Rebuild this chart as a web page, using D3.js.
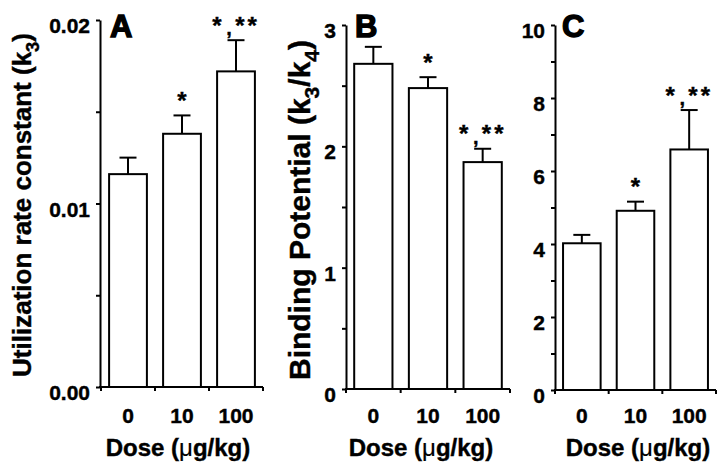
<!DOCTYPE html>
<html><head><meta charset="utf-8">
<script src="https://cdn.jsdelivr.net/npm/d3@7"></script>
<style>
html,body{margin:0;padding:0;background:#fff;}
svg text{font-family:"Liberation Sans",Arial,Helvetica,sans-serif;font-weight:bold;fill:#000;stroke:#000;stroke-width:0.4px;}
</style></head>
<body><svg id="c" width="720" height="469"></svg>
<script>
// ---- data ----
const doses = ["0", "10", "100"];
const utilMean = [0.0116, 0.0138, 0.0172];
const utilSem  = [0.0009, 0.0010, 0.0017];
const bpMean = [2.68, 2.48, 1.87];
const bpSem  = [0.14, 0.09, 0.11];
const cMean = [4.02, 4.91, 6.59];
const cSem  = [0.23, 0.25, 1.08];
const signif = ["", "*", "*,**"];
const utilTicks = [0, 0.01, 0.02];
const utilTickLabels = ["0.00", "0.01", "0.02"];
const utilMinor = [0.005, 0.015];
const bpTicks = [0, 1, 2, 3];
const bpTickLabels = ["0", "1", "2", "3"];
const bpMinor = [0.5, 1.5, 2.5];
const cTicks = [0, 2, 4, 6, 8, 10];
const cTickLabels = ["0", "2", "4", "6", "8", "10"];
const cMinor = [1, 3, 5, 7, 9];
const panelLetters = ["A", "B", "C"];

// ---- layout ----
const panels = [
  {letter: panelLetters[0], mean: utilMean, sem: utilSem, ticks: utilTicks, labels: utilTickLabels, minor: utilMinor,
   domain: [0, 0.02], ax: 100, y0: 387, y1: 20, xr: [101, 263], titleX: 110, xtc: 178,
   ytitle: {x: 31, y: 205, size: 26, parts: [["Utilization rate constant (k", 0], ["3", 1], [")", 0]]}},
  {letter: panelLetters[1], mean: bpMean, sem: bpSem, ticks: bpTicks, labels: bpTickLabels, minor: bpMinor,
   domain: [0, 3], ax: 346, y0: 389, y1: 25, xr: [346, 510], titleX: 355, xtc: 421,
   ytitle: {x: 310, y: 210, size: 30, parts: [["Binding Potential (k", 0], ["3", 1], ["/k", 0], ["4", 1], [")", 0]]}},
  {letter: panelLetters[2], mean: cMean, sem: cSem, ticks: cTicks, labels: cTickLabels, minor: cMinor,
   domain: [0, 10], ax: 555, y0: 390, y1: 25, xr: [555, 716], titleX: 562, xtc: 638, ytitle: null}
];

const svg = d3.select("#c");
const starSize = 24;

panels.forEach(p => {
  const g = svg.append("g");
  const y = d3.scaleLinear().domain(p.domain).range([p.y0, p.y1]);
  const x = d3.scaleBand().domain(doses).range(p.xr).paddingInner(0.3).paddingOuter(0.15);

  // bars
  g.selectAll("rect.bar").data(p.mean).enter().append("rect")
    .attr("x", (d, i) => x(doses[i]))
    .attr("y", d => y(d))
    .attr("width", x.bandwidth())
    .attr("height", d => p.y0 - y(d))
    .attr("fill", "#fff").attr("stroke", "#000").attr("stroke-width", 2);

  // error bars and significance marks
  p.mean.forEach((m, i) => {
    const cx = x(doses[i]) + x.bandwidth() / 2;
    const top = y(m + p.sem[i]);
    g.append("line").attr("x1", cx).attr("x2", cx).attr("y1", y(m)).attr("y2", top)
      .attr("stroke", "#000").attr("stroke-width", 2);
    g.append("line").attr("x1", cx - 8.5).attr("x2", cx + 8.5).attr("y1", top).attr("y2", top)
      .attr("stroke", "#000").attr("stroke-width", 2);
    const s = signif[i];
    const starBase = top - 20 + starSize * 0.57;
    if (s === "*") {
      g.append("text").attr("x", cx).attr("y", starBase).attr("text-anchor", "middle")
        .attr("font-size", starSize).text("*");
    } else if (s === "*,**") {
      const parts = s.split(",");
      g.append("text").attr("x", cx - 19).attr("y", starBase).attr("text-anchor", "middle")
        .attr("font-size", starSize).text(parts[0]);
      g.append("text").attr("x", cx - 7).attr("y", top - 5).attr("text-anchor", "middle")
        .attr("font-size", 20).text(",");
      g.append("text").attr("x", cx + 10).attr("y", starBase).attr("text-anchor", "middle")
        .attr("font-size", starSize).attr("letter-spacing", 3).attr("dx", 1.5).text(parts[1]);
    }
  });

  // y axis
  const yAxis = d3.axisLeft(y).tickValues(p.ticks).tickFormat((d, i) => p.labels[i])
    .tickSize(4).tickPadding(6).tickSizeOuter(0);
  const ya = g.append("g").attr("transform", `translate(${p.ax},0)`).call(yAxis);
  ya.attr("font-family", null).attr("font-size", null);
  ya.select(".domain").attr("stroke-width", 2);
  ya.selectAll(".tick line").attr("stroke-width", 2);
  ya.selectAll(".tick text").attr("font-size", 21).attr("dy", "0.6em").attr("fill", "#000");
  const yMinor = d3.axisLeft(y).tickValues(p.minor).tickFormat("").tickSize(4).tickSizeOuter(0);
  const ym = g.append("g").attr("transform", `translate(${p.ax},0)`).call(yMinor);
  ym.select(".domain").remove();
  ym.selectAll(".tick line").attr("stroke-width", 2);

  // x axis line and boundary ticks
  g.append("line").attr("x1", p.ax - 1).attr("x2", p.xr[1]).attr("y1", p.y0).attr("y2", p.y0)
    .attr("stroke", "#000").attr("stroke-width", 2);
  const bounds = d3.range(doses.length + 1).map(i => p.xr[0] + i * x.step());
  g.selectAll("line.bt").data(bounds).enter().append("line")
    .attr("x1", d => d).attr("x2", d => d).attr("y1", p.y0).attr("y2", p.y0 + 4)
    .attr("stroke", "#000").attr("stroke-width", 2);
  g.selectAll("text.xl").data(doses).enter().append("text")
    .attr("x", d => x(d) + x.bandwidth() / 2).attr("y", 423)
    .attr("text-anchor", "middle").attr("font-size", 21).text(d => d);

  // x title
  const xt = g.append("text").attr("x", p.xtc).attr("y", 456).attr("text-anchor", "middle").attr("font-size", 24);
  xt.append("tspan").text("Dose (");
  xt.append("tspan").style("font-weight", "normal").style("stroke-width", "0.2px").text("μ");
  xt.append("tspan").text("g/kg)");

  // panel letter
  g.append("text").attr("x", p.titleX).attr("y", 37).attr("font-size", 31)
    .style("stroke-width", "1.4px").text(p.letter);

  // y title
  if (p.ytitle) {
    const t = g.append("text").attr("transform", `translate(${p.ytitle.x},${p.ytitle.y}) rotate(-90)`)
      .attr("text-anchor", "middle").attr("font-size", p.ytitle.size);
    let prevSub = false;
    p.ytitle.parts.forEach(([s, sub]) => {
      const ts = t.append("tspan").text(s);
      if (sub) { ts.attr("font-size", p.ytitle.size * 0.7).attr("dy", p.ytitle.size * 0.3); }
      else if (prevSub) { ts.attr("dy", -p.ytitle.size * 0.3); }
      prevSub = !!sub;
    });
  }
});
</script></body></html>
